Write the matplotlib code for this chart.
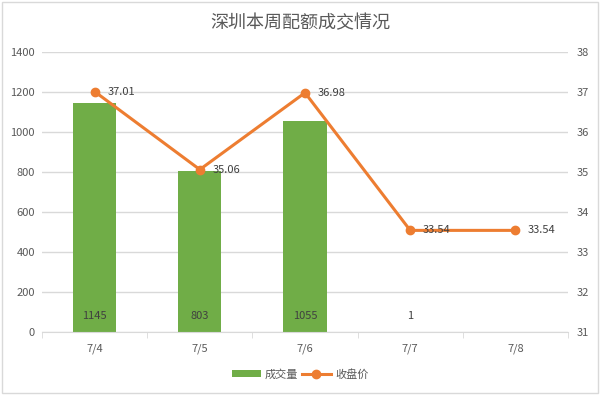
import matplotlib
matplotlib.use("Agg")
import matplotlib.pyplot as plt
import numpy as np
from matplotlib.lines import Line2D
from matplotlib.patches import Patch

plt.rcParams['font.family'] = ['Noto Sans CJK SC', 'DejaVu Sans']

categories = ["7/4", "7/5", "7/6", "7/7", "7/8"]
volume = [1145, 803, 1055, 1, np.nan]
price = [37.01, 35.06, 36.98, 33.54, 33.54]
left_ticks = [0, 200, 400, 600, 800, 1000, 1200, 1400]
right_ticks = [31, 32, 33, 34, 35, 36, 37, 38]

green = "#70AD47"
orange = "#ED7D31"
txt = "#595959"
grid = "#D9D9D9"

fig = plt.figure(figsize=(6.0, 3.95), dpi=100)
ax = fig.add_axes([0.07, 0.1595, 0.8767, 0.709])
ax2 = ax.twinx()

x = np.arange(len(categories))
ax.bar(x, volume, width=0.41, color=green, zorder=2)
ax.set_xlim(-0.5, len(categories) - 0.5)
ax.set_ylim(0, 1400)
ax.set_yticks(left_ticks)
ax.yaxis.grid(True, color=grid, linewidth=1)
ax.set_axisbelow(True)
for s in ["top", "right", "left"]:
    ax.spines[s].set_visible(False)
ax.spines["bottom"].set_color(grid)
ax.set_xticks(x)
ax.set_xticklabels(categories)
ax.set_xticks(np.arange(-0.5, len(categories)), minor=True)
ax.tick_params(axis="x", which="major", length=0, pad=8, labelsize=8, labelcolor=txt)
ax.tick_params(axis="x", which="minor", length=4, color=grid, direction="out")
ax.tick_params(axis="y", length=0, labelsize=8, labelcolor=txt, pad=5)

for xi, v in zip(x, volume):
    if not np.isnan(v):
        ax.text(xi, 78, f"{int(v)}", ha="center", va="center", fontsize=8, color="#404040", zorder=3)

ax2.plot(x, price, color=orange, linewidth=2.2, marker="o", markersize=6, zorder=4)
ax2.set_ylim(31, 38)
ax2.set_yticks(right_ticks)
for s in ["top", "right", "left", "bottom"]:
    ax2.spines[s].set_visible(False)
ax2.tick_params(axis="y", length=0, labelsize=8, labelcolor=txt, pad=6.5)
for xi, p in zip(x, price):
    ax2.text(xi + 0.12, p, f"{p:.2f}", ha="left", va="center", fontsize=8, color="#404040", zorder=5)

fig.text(0.5, 0.942, "深圳本周配额成交情况", ha="center", va="center", fontsize=13, color=txt)

handles = [Patch(facecolor=green, edgecolor="none"),
           Line2D([0], [0], color=orange, linewidth=2.2, marker="o", markersize=6)]
fig.legend(handles, ["成交量", "收盘价"], loc="center", bbox_to_anchor=(0.5, 0.053),
           ncol=2, frameon=False, fontsize=8, labelcolor=txt, handlelength=2.6,
           handletextpad=0.4, columnspacing=0.3)

fig.patches.append(plt.Rectangle((0.004, 0.006), 0.992, 0.988, transform=fig.transFigure,
                                 fill=False, edgecolor="#D9D9D9", linewidth=1))

fig.savefig("out.png", dpi=100)
